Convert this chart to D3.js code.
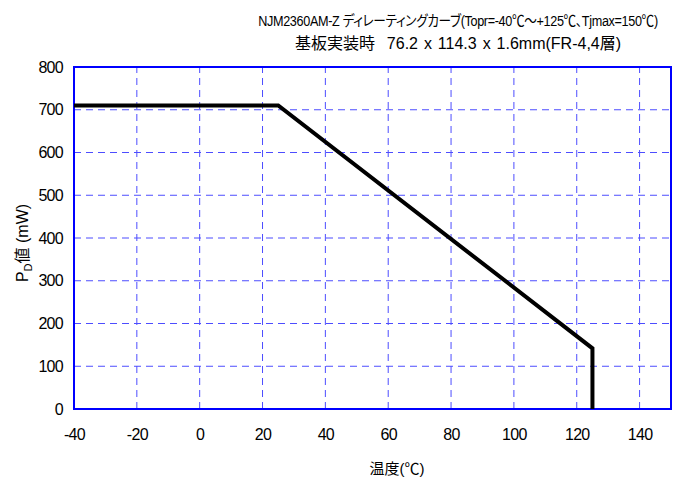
<!DOCTYPE html>
<html><head><meta charset="utf-8">
<script src="https://cdn.jsdelivr.net/npm/d3@7"></script>
<style>body{margin:0;background:#fff}svg{display:block}text{font-family:"Liberation Sans",Arial,"Noto Sans CJK JP",sans-serif;fill:#000}
.t1{font-family:"Liberation Sans Narrow","Liberation Sans","Noto Sans CJK JP",sans-serif;font-feature-settings:"palt" 1;letter-spacing:-0.4px}
.t2{font-feature-settings:"palt" 1;word-spacing:1.5px}</style>
</head><body><div id="c"></div>
<script>
const temps = [-40, 25, 125, 125];
const pdValues = [710, 710, 142, 0];
const xTicks = [-40, -20, 0, 20, 40, 60, 80, 100, 120, 140];
const yTicks = [0, 100, 200, 300, 400, 500, 600, 700, 800];
const titleLines = ["NJM2360AM-Z ディレーティングカーブ(Topr=-40℃〜+125℃、Tjmax=150℃)", "基板実装時\u00a0\u00a076.2 x 114.3 x 1.6mm(FR-4,4層)"];
const xTitle = "温度(℃)";

const W = 680, H = 483;
const m = {l: 74, r: 9, t: 67, b: 74};
const svg = d3.select("#c").append("svg").attr("width", W).attr("height", H);
const x = d3.scaleLinear().domain([-40, 150]).range([m.l, W - m.r]);
const y = d3.scaleLinear().domain([0, 800]).range([H - m.b, m.t]);

const g = svg.append("g");
g.selectAll(".vg").data(xTicks.filter(d => d > -40)).join("line")
  .attr("x1", d => x(d)).attr("x2", d => x(d)).attr("y1", y(0)).attr("y2", y(800))
  .attr("stroke", "#4d4dff").attr("stroke-width", 1).attr("stroke-dasharray", "7,5");
g.selectAll(".hg").data(yTicks.filter(d => d > 0 && d < 800)).join("line")
  .attr("x1", x(-40)).attr("x2", x(150)).attr("y1", d => y(d)).attr("y2", d => y(d))
  .attr("stroke", "#4d4dff").attr("stroke-width", 1).attr("stroke-dasharray", "7,5");

const xa = svg.append("g").attr("transform", `translate(0,${y(0)})`)
  .call(d3.axisBottom(x).tickValues(xTicks).tickFormat(d => String(d)).tickSize(0).tickPadding(20));
const ya = svg.append("g").attr("transform", `translate(${x(-40)},0)`)
  .call(d3.axisLeft(y).tickValues(yTicks).tickFormat(d => String(d)).tickSize(0).tickPadding(11));
[xa, ya].forEach(a => { a.select(".domain").remove(); a.selectAll("text").style("font-size", "16px").style("letter-spacing", "-0.7px").attr("fill", "#000"); });

svg.append("rect").attr("x", x(-40)).attr("y", y(800)).attr("width", x(150) - x(-40)).attr("height", y(0) - y(800))
  .attr("fill", "none").attr("stroke", "#0000ff").attr("stroke-width", 2);

const pts = temps.map((t, i) => [t, pdValues[i]]);
svg.append("path").datum(pts)
  .attr("d", d3.line().x(d => x(d[0])).y(d => y(d[1])))
  .attr("fill", "none").attr("stroke", "#000").attr("stroke-width", 4).attr("stroke-linejoin", "miter");

const tl = [{fs: 14.5, len: 400, yb: 26, cls: "t1"}, {fs: 16, len: 345, yb: 49, cls: "t2"}];
svg.selectAll(".tt").data(titleLines).join("text")
  .attr("class", (d, i) => tl[i].cls)
  .attr("x", 0).attr("y", 0).attr("text-anchor", "middle")
  .style("font-size", (d, i) => tl[i].fs + "px").text(d => d)
  .each(function(d, i) {
    const w = this.getComputedTextLength();
    const k = Math.min(1, tl[i].len / w);
    d3.select(this).attr("transform", `translate(458,${tl[i].yb}) scale(${k},1)`);
  });

svg.append("text").attr("x", 397).attr("y", 474).attr("text-anchor", "middle")
  .style("font-size", "15px").text(xTitle);

const yl = svg.append("text").attr("transform", `translate(28,243) rotate(-90)`)
  .attr("text-anchor", "middle").style("font-size", "16px");
yl.append("tspan").text("P");
yl.append("tspan").attr("dy", 4).style("font-size", "11px").text("D");
yl.append("tspan").attr("dy", -4).text("値\u00a0(mW)");
</script></body></html>
